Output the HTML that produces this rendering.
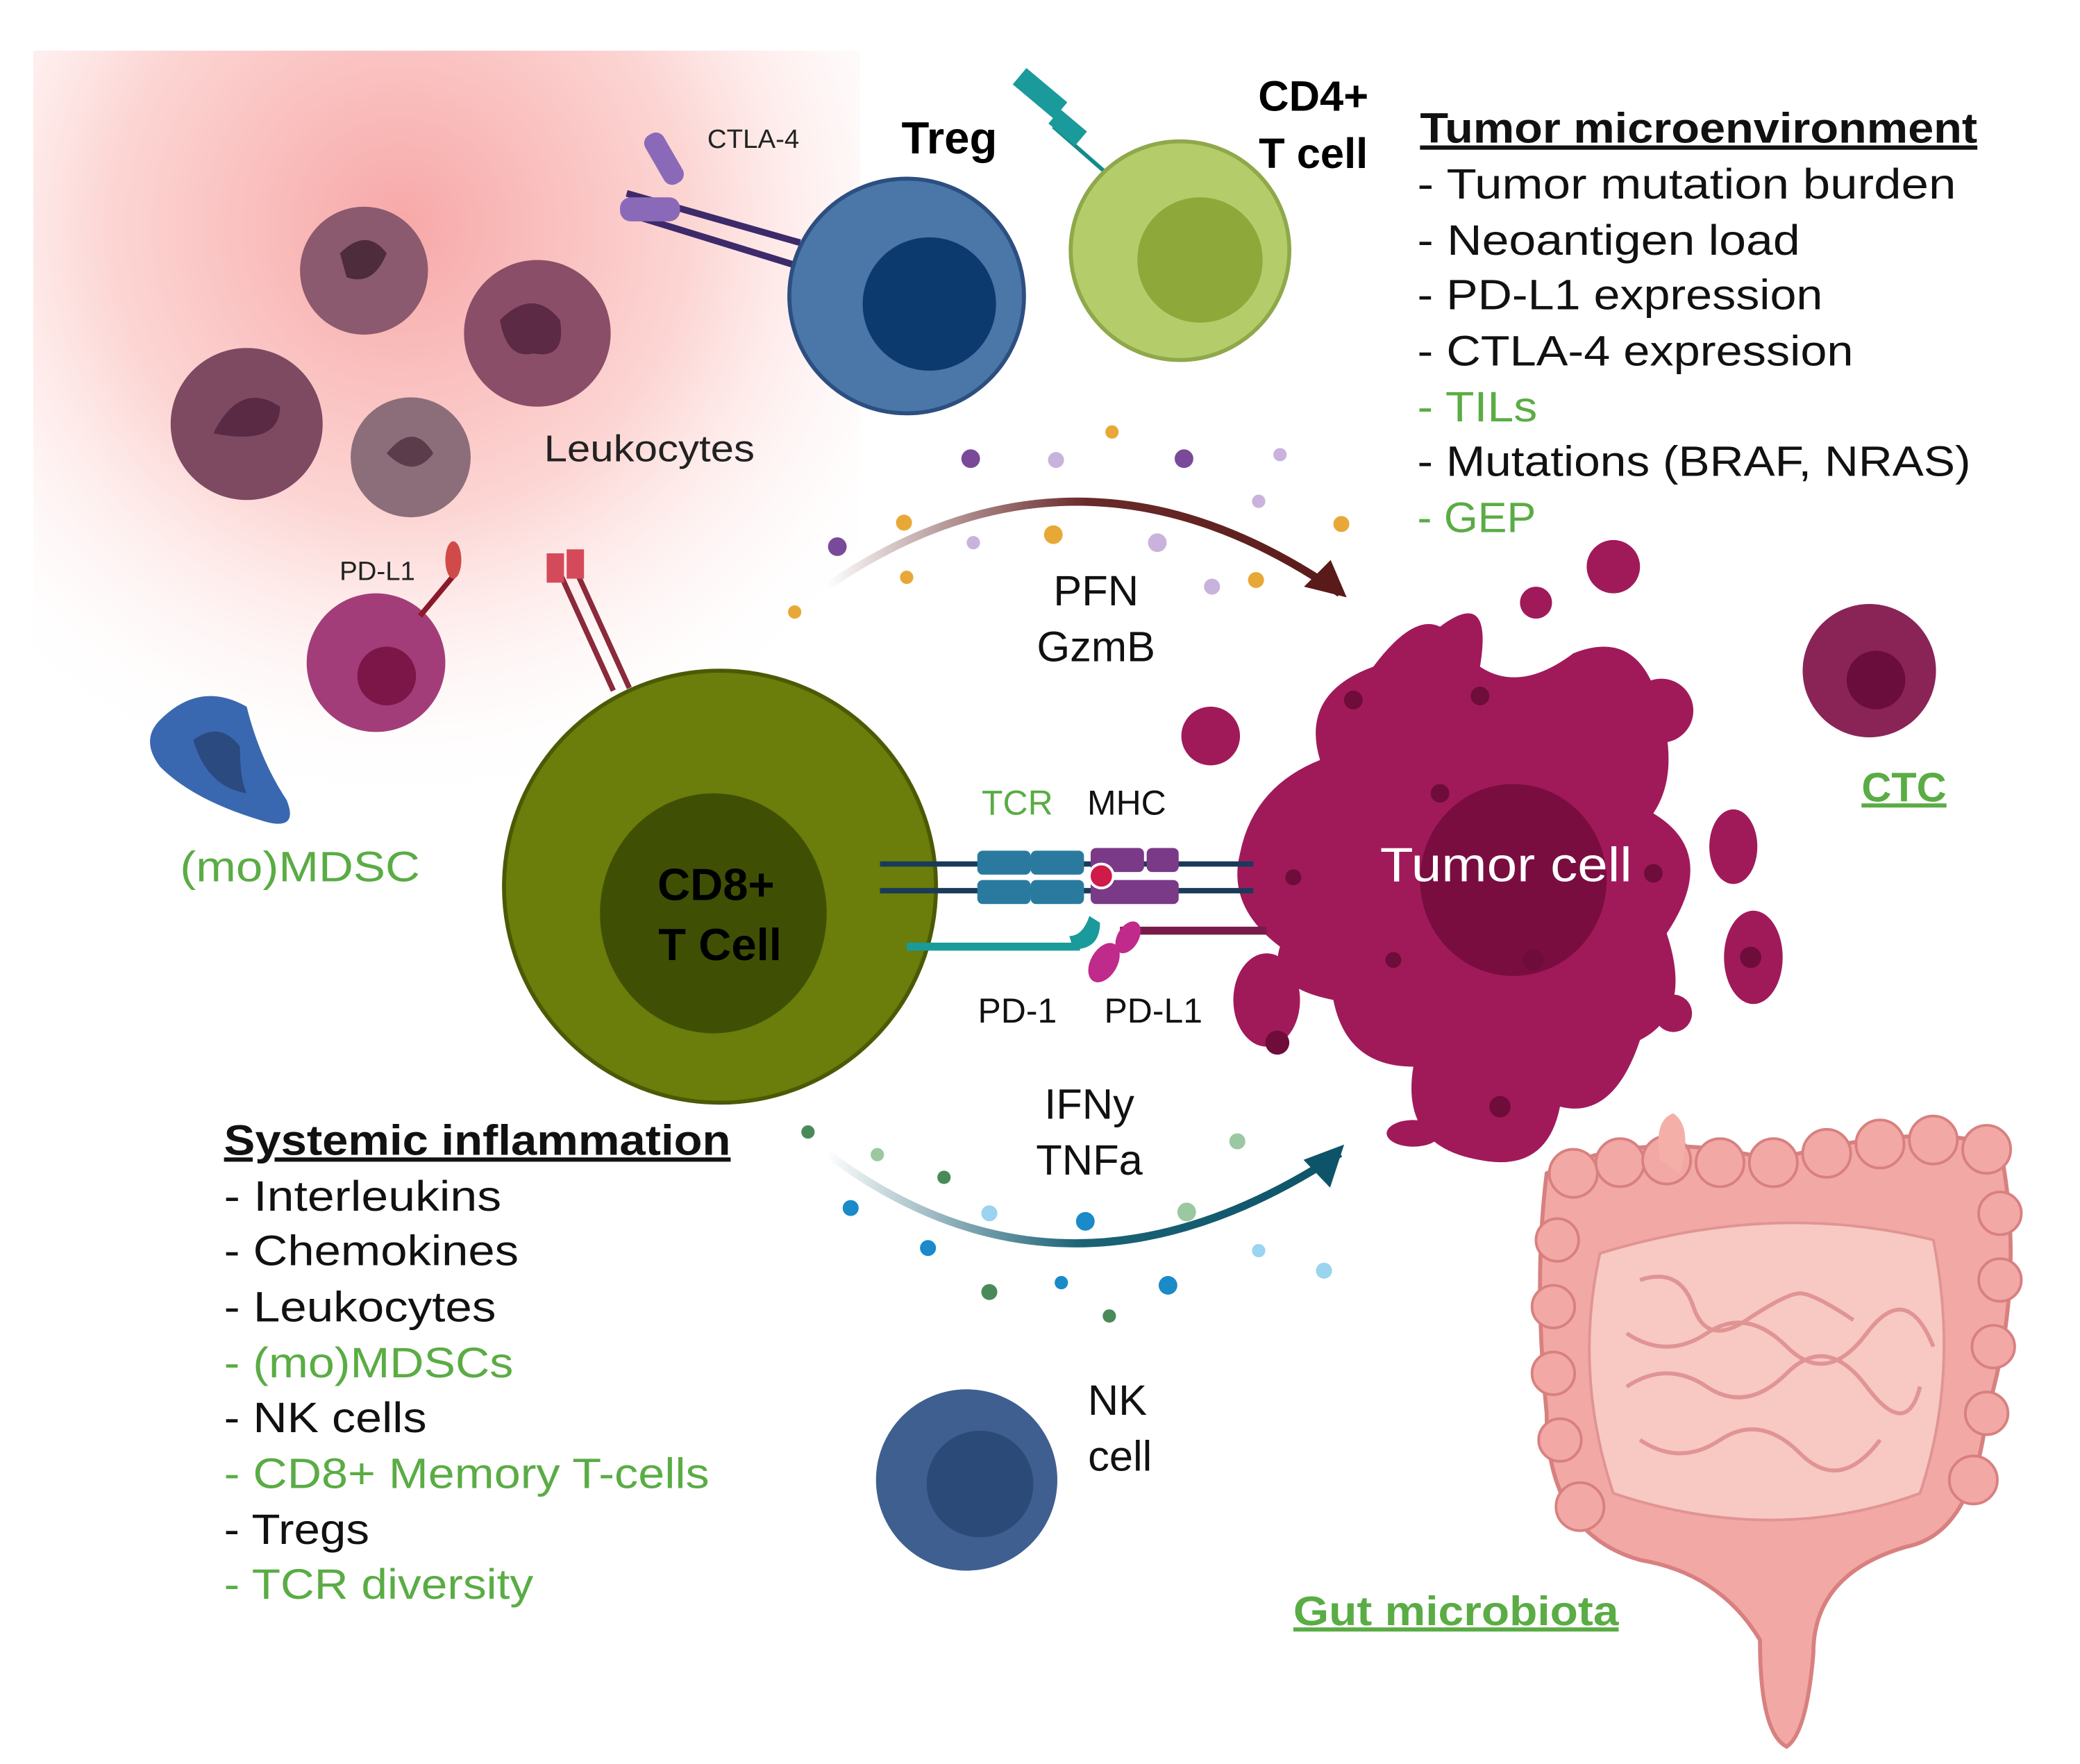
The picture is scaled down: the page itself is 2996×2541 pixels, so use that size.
<!DOCTYPE html>
<html><head><meta charset="utf-8"><style>
html,body{margin:0;padding:0;background:#fff;width:2996px;height:2541px;overflow:hidden}
svg{display:block}
text{font-family:"Liberation Sans",sans-serif}
</style></head><body>
<svg width="2996" height="2541" viewBox="0 0 1560 1323" preserveAspectRatio="none">
<defs>
<radialGradient id="bg" cx="300" cy="170" r="440" gradientUnits="userSpaceOnUse">
<stop offset="0" stop-color="#f7a8a8"/><stop offset="0.5" stop-color="#fcd6d4"/><stop offset="1" stop-color="#fff" stop-opacity="0"/></radialGradient>
<linearGradient id="a1" x1="620" y1="0" x2="1010" y2="0" gradientUnits="userSpaceOnUse"><stop offset="0" stop-color="#5a1a1a" stop-opacity="0"/><stop offset="0.5" stop-color="#6a2a2a"/><stop offset="1" stop-color="#5a1a1a"/></linearGradient>
<linearGradient id="a2" x1="620" y1="0" x2="1005" y2="0" gradientUnits="userSpaceOnUse"><stop offset="0" stop-color="#0e5468" stop-opacity="0"/><stop offset="0.5" stop-color="#1a6276"/><stop offset="1" stop-color="#0e5468"/></linearGradient>
</defs>
<rect x="25" y="38" width="620" height="600" fill="url(#bg)"/>
<circle cx="273" cy="203" r="48" fill="#8b5a6e"/><path d="M255 190 q20 -20 35 0 q-10 25 -30 18z" fill="#4e2c3c"/>
<circle cx="403" cy="250" r="55" fill="#8a4e68"/><path d="M375 240 q25 -25 45 0 q5 30 -20 25 q-20 5 -25 -25z" fill="#5c2a44"/>
<circle cx="185" cy="318" r="57" fill="#7d4a62"/><path d="M160 325 q20 -40 50 -20 q0 30 -50 20z" fill="#5a2a44"/>
<circle cx="308" cy="343" r="45" fill="#8c6e7a"/><path d="M290 340 q20 -25 35 0 q-15 20 -35 0z" fill="#5a3c4a"/>
<circle cx="282" cy="497" r="52" fill="#a33d7a"/><circle cx="290" cy="507" r="22" fill="#7c1548"/>
<line x1="315" y1="462" x2="340" y2="432" stroke="#8a1a2a" stroke-width="4"/><ellipse cx="340" cy="420" rx="6" ry="14" fill="#d04a4a"/>
<path d="M120 540 q30 -30 65 -10 q10 40 30 70 q10 25 -20 15 q-50 -15 -75 -40 q-15 -20 0 -35z" fill="#3a68b0"/>
<path d="M145 555 q20 -15 35 5 q0 25 5 35 q-30 -5 -40 -40z" fill="#2a4a80"/>
<line x1="420" y1="430" x2="460" y2="518" stroke="#8a2a3a" stroke-width="4"/><line x1="432" y1="428" x2="472" y2="516" stroke="#8a2a3a" stroke-width="4"/>
<rect x="410" y="415" width="13" height="22" fill="#d44a5a"/><rect x="425" y="412" width="13" height="22" fill="#d44a5a"/>
<line x1="470" y1="160" x2="600" y2="200" stroke="#3d2a6a" stroke-width="5"/><line x1="470" y1="145" x2="600" y2="182" stroke="#3d2a6a" stroke-width="5"/>
<rect x="465" y="148" width="45" height="18" rx="8" fill="#8a6ab8"/><rect x="490" y="98" width="16" height="42" rx="7" fill="#8a6ab8" transform="rotate(-30 498 119)"/>
<circle cx="680" cy="222" r="88" fill="#4a76a8" stroke="#2c4f80" stroke-width="3"/><circle cx="697" cy="228" r="50" fill="#0d3a6e"/>
<line x1="790" y1="95" x2="830" y2="130" stroke="#158a8a" stroke-width="3"/>
<rect x="760" y="62" width="40" height="16" fill="#1a9a9a" transform="rotate(40 780 70)"/><rect x="788" y="88" width="26" height="14" fill="#1a9a9a" transform="rotate(40 800 95)"/>
<circle cx="885" cy="188" r="82" fill="#b5cc6a" stroke="#8fa84a" stroke-width="3"/><circle cx="900" cy="195" r="47" fill="#8ea83a"/>
<circle cx="540" cy="665" r="162" fill="#6b7d0a" stroke="#4a5a05" stroke-width="3"/>
<ellipse cx="535" cy="685" rx="85" ry="90" fill="#3f5005"/>
<path d="M620 440 Q810 310 1005 445" fill="none" stroke="url(#a1)" stroke-width="6"/>
<path d="M1010 448 L978 440 L998 420z" fill="#5a1a1a"/>
<path d="M620 865 Q800 1000 1005 865" fill="none" stroke="url(#a2)" stroke-width="6"/>
<path d="M1010 860 L978 866 L994 890z" fill="#0e5468" transform="rotate(-10 1000 870)"/>
<g fill="#7a4a9a"><circle cx="728" cy="344" r="7"/><circle cx="888" cy="344" r="7"/><circle cx="628" cy="410" r="7"/></g>
<g fill="#c9b3dd"><circle cx="792" cy="345" r="6"/><circle cx="960" cy="341" r="5"/><circle cx="944" cy="376" r="5"/><circle cx="730" cy="407" r="5"/><circle cx="868" cy="407" r="7"/><circle cx="909" cy="440" r="6"/></g>
<g fill="#e8a838"><circle cx="834" cy="324" r="5"/><circle cx="678" cy="392" r="6"/><circle cx="790" cy="401" r="7"/><circle cx="1006" cy="393" r="6"/><circle cx="680" cy="433" r="5"/><circle cx="942" cy="435" r="6"/><circle cx="596" cy="459" r="5"/></g>
<g fill="#4a8a5a"><circle cx="606" cy="849" r="5"/><circle cx="708" cy="883" r="5"/><circle cx="742" cy="969" r="6"/><circle cx="832" cy="987" r="5"/></g>
<g fill="#9ac8a0"><circle cx="658" cy="866" r="5"/><circle cx="928" cy="856" r="6"/><circle cx="890" cy="909" r="7"/></g>
<g fill="#1a8ac8"><circle cx="638" cy="906" r="6"/><circle cx="696" cy="936" r="6"/><circle cx="814" cy="916" r="7"/><circle cx="876" cy="964" r="7"/><circle cx="796" cy="962" r="5"/></g>
<g fill="#9ad4ee"><circle cx="742" cy="910" r="6"/><circle cx="944" cy="938" r="5"/><circle cx="993" cy="953" r="6"/></g>
<g fill="#a01a5a">
<path d="M930 640 Q940 590 990 570 Q975 520 1030 500 Q1060 460 1080 470 Q1120 440 1110 500 Q1140 520 1180 490 Q1230 470 1245 530 Q1260 580 1240 610 Q1290 640 1250 700 Q1270 760 1230 780 Q1210 840 1170 830 Q1160 880 1110 870 Q1050 860 1060 800 Q1010 800 1000 750 Q950 740 960 710 Q920 680 930 640z"/>
<circle cx="1210" cy="425" r="20"/><circle cx="1152" cy="452" r="12"/><circle cx="908" cy="552" r="22"/><circle cx="1246" cy="533" r="24"/>
<ellipse cx="1300" cy="635" rx="18" ry="28"/><ellipse cx="1315" cy="718" rx="22" ry="35"/><ellipse cx="950" cy="750" rx="25" ry="35"/>
<ellipse cx="1125" cy="828" rx="22" ry="35"/><ellipse cx="1060" cy="850" rx="20" ry="10"/><circle cx="1255" cy="760" r="14"/>
</g>
<ellipse cx="1135" cy="660" rx="70" ry="72" fill="#7a0d40"/>
<g fill="#6e0c3a"><circle cx="1015" cy="525" r="7"/><circle cx="1110" cy="522" r="7"/><circle cx="970" cy="658" r="6"/><circle cx="1080" cy="595" r="7"/><circle cx="1045" cy="720" r="6"/><circle cx="1240" cy="655" r="7"/><circle cx="1313" cy="718" r="8"/><circle cx="958" cy="782" r="9"/><circle cx="1125" cy="830" r="8"/><circle cx="1150" cy="720" r="8"/></g>
<line x1="660" y1="648" x2="940" y2="648" stroke="#1a3a5a" stroke-width="4"/><line x1="660" y1="668" x2="940" y2="668" stroke="#1a3a5a" stroke-width="4"/>
<g fill="#2a7aa0"><rect x="733" y="638" width="40" height="18" rx="4"/><rect x="773" y="638" width="40" height="18" rx="4"/><rect x="733" y="660" width="40" height="18" rx="4"/><rect x="773" y="660" width="40" height="18" rx="4"/></g>
<g fill="#7a3a88"><rect x="818" y="636" width="40" height="18" rx="4"/><rect x="860" y="636" width="24" height="18" rx="4"/><rect x="818" y="660" width="66" height="18" rx="4"/></g>
<circle cx="826" cy="657" r="9" fill="#d01a4a" stroke="#fff" stroke-width="2"/>
<line x1="680" y1="710" x2="810" y2="710" stroke="#1a9a9a" stroke-width="6"/><path d="M805 712 q20 0 20 -20 l-8 -5 q-5 15 -15 15z" fill="#1a9a9a"/>
<line x1="840" y1="698" x2="950" y2="698" stroke="#7a1a4a" stroke-width="6"/>
<ellipse cx="828" cy="722" rx="10" ry="16" fill="#c02a8a" transform="rotate(30 828 722)"/><ellipse cx="846" cy="703" rx="8" ry="13" fill="#c02a8a" transform="rotate(30 846 703)"/>
<circle cx="1402" cy="503" r="50" fill="#8a2457"/><circle cx="1407" cy="510" r="22" fill="#6a0d3c"/>
<circle cx="725" cy="1110" r="68" fill="#3e5f90"/><circle cx="735" cy="1113" r="40" fill="#2c4a78"/>
<!-- gut -->
<path d="M1160 880 Q1230 845 1330 870 Q1440 840 1500 860 Q1520 960 1490 1060 Q1480 1150 1430 1160 Q1360 1180 1360 1240 Q1355 1300 1340 1310 Q1320 1300 1320 1230 Q1290 1180 1230 1170 Q1160 1150 1160 1060 Q1150 960 1160 880z" fill="#f2a8a4" stroke="#d88080" stroke-width="3"/>
<g fill="#f2a8a4" stroke="#d88080" stroke-width="2">
<circle cx="1180" cy="880" r="18"/><circle cx="1215" cy="872" r="18"/><circle cx="1250" cy="870" r="18"/><circle cx="1290" cy="872" r="18"/><circle cx="1330" cy="872" r="18"/><circle cx="1370" cy="865" r="18"/><circle cx="1410" cy="858" r="18"/><circle cx="1450" cy="855" r="18"/><circle cx="1490" cy="862" r="18"/>
<circle cx="1168" cy="930" r="16"/><circle cx="1165" cy="980" r="16"/><circle cx="1165" cy="1030" r="16"/><circle cx="1170" cy="1080" r="16"/><circle cx="1185" cy="1130" r="18"/>
<circle cx="1500" cy="910" r="16"/><circle cx="1500" cy="960" r="16"/><circle cx="1495" cy="1010" r="16"/><circle cx="1490" cy="1060" r="16"/><circle cx="1480" cy="1110" r="18"/>
</g>
<path d="M1200 940 Q1330 900 1450 930 Q1470 1030 1440 1120 Q1330 1160 1210 1120 Q1180 1030 1200 940z" fill="#f8c8c2" stroke="#e09494" stroke-width="2"/>
<path d="M1230 960 q30 -10 40 20 t40 10 t40 -20 t40 20 M1220 1000 q30 20 60 0 t60 10 t60 -10 t50 10 M1220 1040 q30 -20 60 0 t60 -10 t60 10 t40 0 M1230 1080 q30 20 60 0 t60 10 t60 -10" fill="none" stroke="#e09494" stroke-width="3"/>
<path d="M1245 870 Q1240 840 1255 835 Q1270 845 1260 880z" fill="#f4b0a8"/>
<!-- text -->
<g font-size="20" fill="#222"><text x="565" y="111" text-anchor="middle">CTLA-4</text><text x="283" y="435" text-anchor="middle">PD-L1</text></g>
<text x="712" y="115" font-size="34" font-weight="bold" text-anchor="middle">Treg</text>
<text x="985" y="83" font-size="32" font-weight="bold" text-anchor="middle">CD4+</text>
<text x="985" y="126" font-size="32" font-weight="bold" text-anchor="middle">T cell</text>
<text x="408" y="346" font-size="28" fill="#222" textLength="158" lengthAdjust="spacingAndGlyphs">Leukocytes</text>
<text x="135" y="661" font-size="32" fill="#5aac44" textLength="180" lengthAdjust="spacingAndGlyphs">(mo)MDSC</text>
<text x="537" y="675" font-size="34" font-weight="bold" text-anchor="middle">CD8+</text>
<text x="540" y="720" font-size="34" font-weight="bold" text-anchor="middle">T Cell</text>
<g font-size="32" text-anchor="middle" fill="#111"><text x="822" y="454">PFN</text><text x="822" y="496">GzmB</text><text x="817" y="839">IFNy</text><text x="817" y="881">TNFa</text><text x="838" y="1061">NK</text><text x="840" y="1103">cell</text></g>
<g font-size="26" text-anchor="middle"><text x="763" y="611" fill="#5aac44">TCR</text><text x="845" y="611" fill="#111">MHC</text><text x="763" y="767" fill="#111">PD-1</text><text x="865" y="767" fill="#111">PD-L1</text></g>
<text x="1035" y="661" font-size="36" fill="#fff" textLength="189" lengthAdjust="spacingAndGlyphs">Tumor cell</text>
<text x="1428" y="601" font-size="31" font-weight="bold" text-anchor="middle" fill="#5aac44" text-decoration="underline">CTC</text>
<text x="970" y="1219" font-size="31" font-weight="bold" fill="#5aac44" text-decoration="underline" textLength="244" lengthAdjust="spacingAndGlyphs">Gut microbiota</text>
<g font-size="32" fill="#111" lengthAdjust="spacingAndGlyphs">
<text x="1065" y="107" font-weight="bold" text-decoration="underline" textLength="418" lengthAdjust="spacingAndGlyphs">Tumor microenvironment</text>
<text x="1063" y="149" textLength="404" lengthAdjust="spacingAndGlyphs">- Tumor mutation burden</text>
<text x="1063" y="191" textLength="287" lengthAdjust="spacingAndGlyphs">- Neoantigen load</text>
<text x="1063" y="232" textLength="304" lengthAdjust="spacingAndGlyphs">- PD-L1 expression</text>
<text x="1063" y="274" textLength="327" lengthAdjust="spacingAndGlyphs">- CTLA-4 expression</text>
<text x="1063" y="316" fill="#5aac44" textLength="90" lengthAdjust="spacingAndGlyphs">- TILs</text>
<text x="1063" y="357" textLength="415" lengthAdjust="spacingAndGlyphs">- Mutations (BRAF, NRAS)</text>
<text x="1063" y="399" fill="#5aac44" textLength="89" lengthAdjust="spacingAndGlyphs">- GEP</text>
<text x="168" y="866" font-weight="bold" text-decoration="underline" textLength="380" lengthAdjust="spacingAndGlyphs">Systemic inflammation</text>
<text x="168" y="908" textLength="208" lengthAdjust="spacingAndGlyphs">- Interleukins</text>
<text x="168" y="949" textLength="221" lengthAdjust="spacingAndGlyphs">- Chemokines</text>
<text x="168" y="991" textLength="204" lengthAdjust="spacingAndGlyphs">- Leukocytes</text>
<text x="168" y="1033" fill="#5aac44" textLength="217" lengthAdjust="spacingAndGlyphs">- (mo)MDSCs</text>
<text x="168" y="1074" textLength="152" lengthAdjust="spacingAndGlyphs">- NK cells</text>
<text x="168" y="1116" fill="#5aac44" textLength="364" lengthAdjust="spacingAndGlyphs">- CD8+ Memory T-cells</text>
<text x="168" y="1158" textLength="109" lengthAdjust="spacingAndGlyphs">- Tregs</text>
<text x="168" y="1199" fill="#5aac44" textLength="232" lengthAdjust="spacingAndGlyphs">- TCR diversity</text>
</g>
</svg>
</body></html>
